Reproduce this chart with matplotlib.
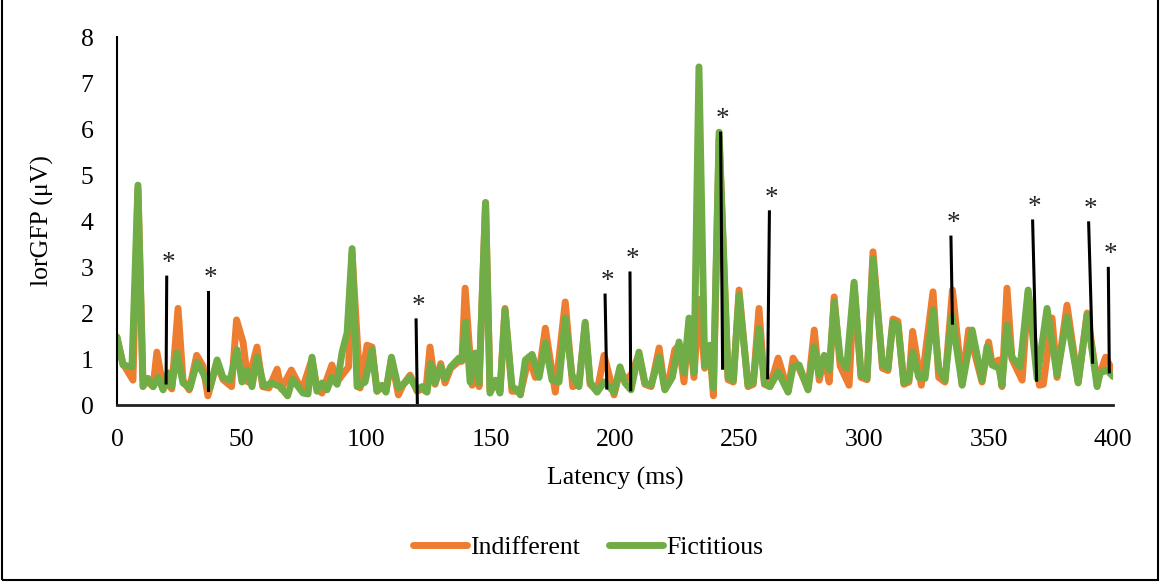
import matplotlib
matplotlib.use("Agg")
import matplotlib.pyplot as plt
from matplotlib.patches import Rectangle

plt.rcParams['font.family'] = ['Liberation Serif', 'DejaVu Serif']

# latency (ms) / lorGFP (uV)
fict_x = [0, 2.4, 6, 8.4, 10.4, 12.4, 14.5, 16.5, 18.5, 20.5, 22, 24, 26.5, 29.3, 32.1, 34.5, 37.3,
          40.2, 42.6, 45.4, 48.2, 50.2, 52.2, 54.2, 56.2, 59, 62, 65.5, 68.5, 70.5, 74.7, 76.7,
          78.3, 80.3, 82.3, 84.3, 86.3, 88.4, 90.4, 92.4, 94.4, 96.4, 99.6, 102.4, 104.4, 106.4,
          108, 110.2, 113, 115, 117.7, 120.5, 122.5, 124.5, 126, 127.7, 130, 131.7, 134, 137.3,
          138.5, 140, 141.8, 143.8, 145.4, 148, 149.8, 152, 153.8, 155.8, 158.6, 160.6, 162, 164,
          166.7, 169.5, 172, 174.7, 177.5, 180, 182.7, 185.5, 188, 190, 192.8, 195.6, 197.5, 199.6,
          202, 204, 206.4, 209.6, 212, 214.5, 217.7, 220, 223, 225.7, 227.7, 229.7, 231.7, 233.7,
          236, 238, 239.5, 241.8, 245.4, 247.5, 249.8, 253.4, 255.5, 257.8, 260, 262.2, 265.5,
          269.5, 271.5, 273.9, 277.5, 280, 282, 284, 286, 288, 290.4, 293, 296, 298.8, 301.2,
          303.6, 307.4, 309.6, 311.6, 313.6, 316, 318, 319.5, 322, 324.5, 327.7, 330, 332.5,
          335.3, 339.4, 343.4, 347.4, 349.4, 351.4, 354.2, 355.4, 357.4, 359.4, 362.7, 365.9,
          369.5, 373.5, 377.5, 381.5, 386, 389.6, 393.6, 394.8, 397.6, 400]
fict_y = [1.48, 0.87, 0.83, 4.78, 0.4, 0.58, 0.4, 0.6, 0.33, 0.7, 0.4, 1.13, 0.48, 0.37, 0.93, 0.7, 0.37,
          0.98, 0.59, 0.54, 1.2, 0.5, 0.76, 0.4, 1.04, 0.4, 0.48, 0.4, 0.2, 0.56, 0.26, 0.24,
          1.04, 0.3, 0.48, 0.33, 0.6, 0.45, 1.15, 1.57, 3.4, 0.4, 0.5, 1.2, 0.3, 0.43,
          0.28, 1.04, 0.37, 0.45, 0.6, 0.33, 0.4, 0.28, 0.9, 0.48, 0.83, 0.58, 0.83, 1.02,
          0.98, 1.8, 0.5, 1.13, 0.48, 4.4, 0.26, 0.54, 0.26, 2.07, 0.4, 0.33, 0.22, 0.98,
          1.1, 0.6, 1.35, 0.54, 0.5, 1.89, 0.65, 0.4, 1.8, 0.5, 0.28, 0.5, 0.4, 0.28,
          0.83, 0.48, 0.33, 1.15, 0.48, 0.43, 1.04, 0.33, 0.6, 1.37, 0.7, 1.89, 0.7, 7.35,
          0.85, 1.3, 0.37, 5.93, 0.6, 0.54, 2.39, 0.43, 0.5, 1.67, 0.48, 0.4, 0.72,
          0.28, 0.83, 0.87, 0.33, 1.27, 0.65, 1.08, 0.76, 2.24, 1.02, 0.8, 2.67, 0.65, 0.58,
          3.18, 0.87, 0.8, 1.8, 1.74, 0.48, 0.55, 1.15, 0.6, 0.58, 2.07, 0.8, 0.54,
          1.93, 0.43, 1.63, 0.54, 1.27, 0.87, 0.8, 0.43, 1.74, 1.04, 0.83, 2.5,
          0.58, 2.1, 0.65, 1.91, 0.48, 1.96, 0.4, 0.7, 0.76, 0.62]

indiff_x = [0, 2.4, 6.4, 8.4, 10.4, 12.4, 14.5, 16, 18.5, 20.5, 22, 24.5, 26.5, 29, 32, 34.5, 36.5,
            40, 42.6, 46, 48, 50.6, 52.6, 56.2, 58.5, 61, 64.3, 66, 70, 72.5, 74.3, 78.3, 80.3,
            82.3, 86.3, 88.4, 90.4, 93, 94.4, 97.6, 100.4, 102.4, 104.4, 106.4, 108, 110.2, 113,
            115, 117.7, 120.5, 122.5, 124, 125.7, 127.7, 130, 131.7, 134, 137.3, 138.5, 139.8,
            142.6, 143.8, 145.4, 148, 149.8, 152, 153.8, 155.8, 158.6, 160.6, 162, 165.4, 168,
            169.5, 172, 176, 180, 183, 185.5, 188, 190, 192.8, 195.6, 199.6, 202, 204, 206.4,
            209.6, 212, 214.5, 217.7, 220, 221.5, 224, 225.7, 227.7, 229.7, 231.7, 233.7, 236,
            238, 239.5, 241.8, 245.4, 247.5, 249.8, 253.4, 255.5, 257.8, 260, 262.2, 265.5,
            269.5, 271.5, 273.9, 277.5, 280, 282, 284, 286, 288, 290.4, 294, 296, 298.8, 301.2,
            303.6, 307.4, 309.6, 311.6, 313.6, 316, 318, 319.5, 323, 327.7, 330, 332.5, 335.5,
            339.4, 342, 347.4, 350, 351.4, 354.2, 355.4, 357.4, 359.4, 363.5, 365.9, 370.4,
            372, 375.5, 377.5, 381.5, 386, 389.6, 393.6, 397, 400]
indiff_y = [1.45, 0.9, 0.54, 4.7, 0.55, 0.5, 0.4, 1.15, 0.4, 0.45, 0.35, 2.1, 0.54, 0.33, 1.08, 0.85, 0.2,
            0.9, 0.55, 0.4, 1.85, 1.37, 0.5, 1.26, 0.4, 0.37, 0.78, 0.35, 0.76, 0.5, 0.33, 1.0, 0.35,
            0.26, 0.87, 0.5, 0.65, 0.83, 3.3, 0.37, 1.3, 1.26, 0.3, 0.4, 0.3, 1.0, 0.22,
            0.45, 0.65, 0.3, 0.35, 0.3, 1.26, 0.45, 0.9, 0.48, 0.8, 0.95, 0.95, 2.54,
            0.43, 1.1, 0.4, 4.4, 0.3, 0.5, 0.3, 2.1, 0.3, 0.3, 0.25, 1.04, 0.6,
            0.7, 1.67, 0.28, 2.24, 0.4, 0.45, 1.75, 0.45, 0.3, 1.08, 0.22, 0.75, 0.55, 0.65,
            1.1, 0.45, 0.4, 1.24, 0.35, 0.5, 1.2, 1.3, 0.5, 1.8, 0.6, 2.3, 0.8,
            1.25, 0.2, 5.8, 0.55, 0.5, 2.5, 0.4, 0.45, 2.1, 0.45, 0.4, 1.02,
            0.3, 1.02, 0.8, 0.35, 1.63, 0.54, 1.05, 0.5, 2.35, 0.85, 0.43, 2.6, 0.6, 0.55,
            3.33, 0.8, 0.75, 1.87, 1.82, 0.45, 0.5, 1.6, 0.43, 2.46, 0.6, 0.5, 2.5,
            0.45, 1.63, 0.5, 1.37, 0.9, 0.98, 0.4, 2.54, 1.0, 0.54, 2.45, 0.43,
            0.45, 1.89, 0.6, 2.17, 0.5, 2.0, 0.5, 1.04, 0.72]

# significance markers (hand drawn lines in the original)
sig_x_top = [19.96, 36.7, 120.1, 196.0, 206.0, 242.4, 262.0, 334.9, 367.7, 390.2, 398.1]
sig_x_bot = [19.7, 36.7, 120.6, 196.7, 206.3, 243.2, 261.3, 335.5, 369.3, 391.8, 398.5]
sig_top = [2.78, 2.46, 1.85, 2.39, 2.87, 5.91, 4.2, 3.65, 4.0, 3.96, 2.97]
sig_bot = [0.48, 0.33, 0.05, 0.37, 0.33, 0.8, 0.59, 1.78, 0.54, 0.93, 0.72]

fig = plt.figure(figsize=(11.61, 5.82), dpi=100)
ax = fig.add_axes([0.1008, 0.3041, 0.8579, 0.6323])

ax.plot(indiff_x, indiff_y, color="#ED7D31", lw=5, label="Indifferent", solid_joinstyle="round", solid_capstyle="round")
ax.plot(fict_x, fict_y, color="#70AD47", lw=5, label="Fictitious", solid_joinstyle="round", solid_capstyle="round")

for xt, xb, yt, yb in zip(sig_x_top, sig_x_bot, sig_top, sig_bot):
    ax.plot([xb, xt], [yb, yt], color="black", lw=2.2, clip_on=False)
    ax.annotate("*", (xt, yt), xytext=(1.5, 5), textcoords="offset points",
                ha="center", va="baseline", fontsize=19.5, color="#222222")

ax.set_xlim(0, 400)
ax.set_ylim(0, 8)
ax.set_xticks(range(0, 401, 50))
ax.set_yticks(range(0, 9))
ax.tick_params(length=0, labelsize=18.5)
ax.tick_params(axis="x", pad=17)
ax.tick_params(axis="y", pad=17)
for s in ["top", "right"]:
    ax.spines[s].set_visible(False)
ax.spines["left"].set_linewidth(1.5)
ax.spines["bottom"].set_linewidth(2)
ax.spines["bottom"].set_color("#222222")

ax.set_xlabel("Latency (ms)", fontsize=18.5, labelpad=12)
ax.set_ylabel("lorGFP (μV)", fontsize=18.5, labelpad=19)

fig.legend(loc="center", bbox_to_anchor=(0.5065, 0.06), ncol=2, frameon=False,
           fontsize=18.5, handlelength=2.1, handletextpad=0.15, columnspacing=1.1)

fig.patches.append(Rectangle((0.002, 0.003), 0.995, 1.2, transform=fig.transFigure,
                             fill=False, edgecolor="black", lw=1.5))

fig.savefig("out.png", dpi=100)
